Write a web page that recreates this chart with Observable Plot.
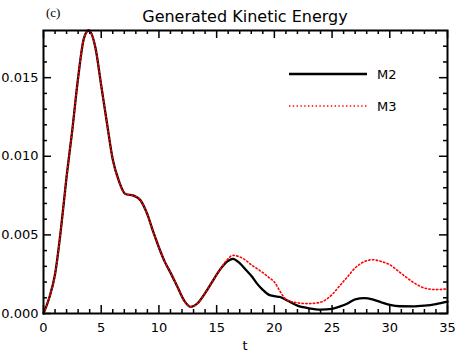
<!DOCTYPE html>
<html>
<head>
<meta charset="utf-8">
<script src="https://cdn.jsdelivr.net/npm/d3@7"></script>
<script src="https://cdn.jsdelivr.net/npm/@observablehq/plot@0.6"></script>
<style>
  html, body { margin: 0; padding: 0; background: #fff; }
  #chart { width: 458px; height: 354px; }
</style>
</head>
<body>
<div id="chart"></div>
<script>
// ---- data ----
const title = "Generated Kinetic Energy";
const panelTag = "(c)";
const xLabel = "t";
const seriesNames = ["M2", "M3"];
const seriesColors = ["#000000", "#ff0000"];

const tVals = [0,0.5,1,1.5,2,2.5,3,3.5,3.9,4.5,
  5,5.5,6,6.5,7.1,7.8,8.4,9,9.5,10,
  10.5,11,11.6,12.2,12.75,13.3,14,14.6,15.2,15.9,
  16.4,17,17.5,18,18.5,19,19.5,20,20.5,21,
  21.5,22,22.5,23,24,25,25.7,26.3,27,27.8,
  28.5,29.3,30,30.9,32,33,34,35];

const m2Vals = [0,0.0010,0.0025,0.0053,0.0087,0.0117,0.0150,0.0175,0.0180,0.0169,
  0.0145,0.0121,0.0098,0.0085,0.0076,0.0075,0.0072,0.0063,0.0052,0.0042,
  0.0033,0.0026,0.0017,0.0008,0.00042,0.00062,0.0013,0.0020,0.0027,0.0033,
  0.00348,0.0032,0.0028,0.0024,0.0019,0.0015,0.0012,0.0011,0.00105,0.00088,
  0.00068,0.0005,0.0004,0.00033,0.00025,0.0003,0.00045,0.00062,0.0009,0.00098,
  0.0009,0.0007,0.00055,0.00046,0.00045,0.0005,0.0006,0.00075];

const m3Vals = [0,0.0010,0.0025,0.0053,0.0087,0.0117,0.0150,0.0175,0.0180,0.0169,
  0.0145,0.0121,0.0098,0.0085,0.0076,0.0075,0.0072,0.0063,0.0052,0.0042,
  0.0033,0.0026,0.0017,0.0008,0.00042,0.00062,0.0013,0.0020,0.0027,0.0034,
  0.0037,0.0036,0.0034,0.0031,0.00285,0.0026,0.0023,0.0020,0.0014,0.0009,
  0.00075,0.00068,0.00064,0.00063,0.00072,0.0012,0.0018,0.0023,0.0029,0.0033,
  0.00342,0.0033,0.0031,0.0026,0.0020,0.00162,0.00152,0.00157];

const xDomain = [0, 35];
const yDomain = [0, 0.018];
const xMajor = [0,5,10,15,20,25,30,35];
const xMinor = d3.range(0, 36, 1).filter(v => v % 5 !== 0);
const yMajor = [0, 0.005, 0.010, 0.015];
const yMinor = d3.range(1, 18).map(i => i / 1000).filter(v => Math.round(v * 1000) % 5 !== 0);

// ---- build tables ----
const rows2 = tVals.map((t, i) => ({t, e: m2Vals[i], s: seriesNames[0]}));
const rows3 = tVals.map((t, i) => ({t, e: m3Vals[i], s: seriesNames[1]}));

const W = 458, H = 354;
const mT = 30, mR = 11, mB = 41, mL = 43;
const innerW = W - mL - mR, innerH = H - mT - mB;
const majorLen = 8, minorLen = 4;
const font = "DejaVu Sans, sans-serif";
const dots = "1.4,2.4";

const chart = Plot.plot({
  width: W,
  height: H,
  marginTop: mT, marginRight: mR, marginBottom: mB, marginLeft: mL,
  style: {fontFamily: font, fontSize: "13px", color: "#000", background: "#fff"},
  x: {domain: xDomain, ticks: xMajor, tickSize: 0, tickPadding: 9, tickFormat: d3.format("d"), label: null},
  y: {domain: yDomain, ticks: yMajor, tickSize: 0, tickPadding: 5, tickFormat: d3.format(".3f"), label: null},
  marks: [
    // inward ticks: bottom / top
    Plot.tickX(xMajor, {x: d => d, insetTop: innerH - majorLen, strokeWidth: 1.5}),
    Plot.tickX(xMinor, {x: d => d, insetTop: innerH - minorLen, strokeWidth: 1.5}),
    Plot.tickX(xMajor, {x: d => d, insetBottom: innerH - majorLen, strokeWidth: 1.5}),
    Plot.tickX(xMinor, {x: d => d, insetBottom: innerH - minorLen, strokeWidth: 1.5}),
    // inward ticks: left / right
    Plot.tickY(yMajor, {y: d => d, insetRight: innerW - majorLen, strokeWidth: 1.5}),
    Plot.tickY(yMinor, {y: d => d, insetRight: innerW - minorLen, strokeWidth: 1.5}),
    Plot.tickY(yMajor, {y: d => d, insetLeft: innerW - majorLen, strokeWidth: 1.5}),
    Plot.tickY(yMinor, {y: d => d, insetLeft: innerW - minorLen, strokeWidth: 1.5}),
    Plot.line(rows2, {x: "t", y: "e", stroke: seriesColors[0], strokeWidth: 2.3, curve: "monotone-x"}),
    Plot.line(rows3, {x: "t", y: "e", stroke: seriesColors[1], strokeWidth: 1.6,
      strokeDasharray: dots, curve: "monotone-x"}),
    Plot.frame({stroke: "#000", strokeWidth: 2})
  ]
});

document.getElementById("chart").appendChild(chart);

// ---- title, panel tag, axis label and legend as SVG text ----
const svg = d3.select(chart);
svg.append("text").attr("x", 245).attr("y", 22).attr("text-anchor", "middle")
  .attr("font-family", font).attr("font-size", 16).attr("fill", "#000").text(title);
svg.append("text").attr("x", 46).attr("y", 17).attr("text-anchor", "start")
  .attr("font-family", "Liberation Serif, serif").attr("font-size", 13).attr("fill", "#000").text(panelTag);
svg.append("text").attr("x", 245).attr("y", 350).attr("text-anchor", "middle")
  .attr("font-family", font).attr("font-size", 13).attr("fill", "#000").text(xLabel);

const legY = [74, 106];
const legDash = [null, dots];
const legW = [2.3, 1.6];
seriesNames.forEach((name, i) => {
  const g = svg.append("g");
  const ln = g.append("line").attr("x1", 289).attr("x2", 367).attr("y1", legY[i]).attr("y2", legY[i])
    .attr("stroke", seriesColors[i]).attr("stroke-width", legW[i]);
  if (legDash[i]) ln.attr("stroke-dasharray", legDash[i]);
  g.append("text").attr("x", 377).attr("y", legY[i] + 5).attr("text-anchor", "start")
    .attr("font-family", font).attr("font-size", 13).attr("fill", "#000").text(name);
});
</script>
</body>
</html>
